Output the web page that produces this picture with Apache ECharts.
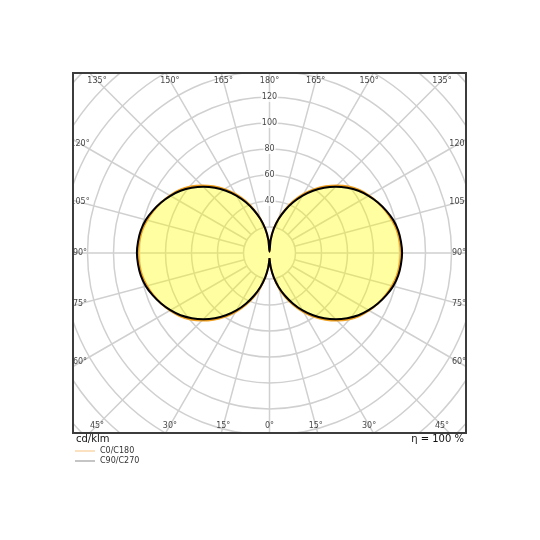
<!DOCTYPE html>
<html>
<head>
<meta charset="utf-8">
<script src="https://cdn.jsdelivr.net/npm/echarts@6/dist/echarts.min.js"></script>
<style>
  html, body { margin: 0; padding: 0; background: #fff; }
  #chart { width: 540px; height: 540px; }
</style>
</head>
<body>
<div id="chart"></div>
<script>
// gamma angles (deg) of the measured half-planes
var gammaDeg = [0, 5, 10, 15, 20, 25, 30, 35, 40, 45, 50, 55, 60, 65, 70, 75, 80, 85, 90,
                95, 100, 105, 110, 115, 120, 125, 130, 135, 140, 145, 150, 155, 160, 165, 170, 175, 180];
// intensity in cd/klm
var c0c180 = [4, 11.5, 19.5, 28, 36.5, 44.5, 52.5, 60, 67, 73.5, 79.5, 84.5, 88.5, 92, 95, 97.5, 99.5, 100.5, 101,
              100.5, 99.5, 97.5, 95, 92, 88.5, 84.5, 79.5, 73.5, 67, 60, 52.5, 44.5, 36, 27.5, 19, 10.5, 1];
var c90c270 = [4, 11, 19, 27, 35, 43, 51, 58.5, 65.5, 72, 78, 83.5, 88, 92, 95.5, 98.5, 100.5, 101.5, 102,
               101.5, 100.5, 98.5, 95.5, 92, 88, 83.5, 78, 72, 65.5, 58.5, 51, 43, 35, 27, 19, 10, 1];
var ringLabels = [40, 60, 80, 100, 120];
var angleTicks = [0, 15, 30, 45, 60, 75, 90, 105, 120, 135, 150, 165, 180,
                  195, 210, 225, 240, 255, 270, 285, 300, 315, 330, 345];
var unitText = 'cd/klm';
var effText = 'η = 100 %';

var cx = 269.5, cy = 253;
var rMax = 220, pxPerUnit = 1.3;
var frame = {x: 73, y: 73, w: 393, h: 360};

// mirror a half-plane curve into a full loop: right side phi=gamma, left side phi=360-gamma
function loop(vals) {
    var out = [];
    for (var i = 0; i < gammaDeg.length; i++) out.push([vals[i], gammaDeg[i]]);
    for (var j = gammaDeg.length - 2; j >= 0; j--) out.push([vals[j], 360 - gammaDeg[j]]);
    return out;
}

// angle labels sit on the ray where it meets a rectangle just inside the frame
function edgeLabels() {
    var halfW = 189.5, halfH = 172.5;
    return angleTicks.map(function (a) {
        var t = a * Math.PI / 180;
        var s = Math.abs(Math.sin(t)), c = Math.abs(Math.cos(t));
        var d = Math.min(s > 1e-6 ? halfW / s : 1e9, c > 1e-6 ? halfH / c : 1e9);
        return [d / pxPerUnit, a];
    });
}

var myChart = echarts.init(document.getElementById('chart'));
var gridLine = {show: true, lineStyle: {color: '#d0d0d0', width: 1.5}};
var hidden = {show: false};

var option = {
    backgroundColor: '#fff',
    animation: false,
    textStyle: {fontFamily: 'DejaVu Sans'},
    polar: [
        {center: [cx, cy], radius: [20 * pxPerUnit, rMax * pxPerUnit]},
        {center: [cx, cy], radius: rMax * pxPerUnit}
    ],
    angleAxis: [
        {polarIndex: 0, type: 'value', min: 0, max: 360, interval: 15, startAngle: -90, clockwise: false,
         axisLine: hidden, axisTick: hidden, axisLabel: hidden, splitLine: gridLine},
        {polarIndex: 1, type: 'value', min: 0, max: 360, startAngle: -90, clockwise: false,
         axisLine: hidden, axisTick: hidden, axisLabel: hidden, splitLine: hidden}
    ],
    radiusAxis: [
        {polarIndex: 0, type: 'value', min: 20, max: rMax, interval: 20,
         axisLine: hidden, axisTick: hidden, axisLabel: hidden, splitLine: gridLine},
        {polarIndex: 1, type: 'value', min: 0, max: rMax,
         axisLine: hidden, axisTick: hidden, axisLabel: hidden, splitLine: hidden}
    ],
    legend: {
        orient: 'vertical',
        left: 75,
        top: 447,
        padding: 0,
        z: 200,
        itemWidth: 20,
        itemHeight: 7,
        itemGap: 2,
        textStyle: {fontSize: 8, color: '#333', fontFamily: 'DejaVu Sans'},
        data: [
            {name: 'C0/C180', icon: 'path://M0,0L20,0L20,1L0,1Z', itemStyle: {color: '#f7c27e'}},
            {name: 'C90/C270', icon: 'path://M0,0L20,0L20,1L0,1Z', itemStyle: {color: '#8a8a8a'}}
        ]
    },
    series: [
        {
            name: 'C0/C180',
            type: 'line',
            coordinateSystem: 'polar',
            polarIndex: 1,
            symbol: 'none',
            smooth: 0.3,
            z: 3,
            lineStyle: {color: '#f0a020', width: 2},
            itemStyle: {color: '#f0a020'},
            areaStyle: {color: 'rgba(255,255,0,0.52)'},
            data: loop(c0c180)
        },
        {
            name: 'C90/C270',
            type: 'line',
            coordinateSystem: 'polar',
            polarIndex: 1,
            symbol: 'none',
            smooth: 0.3,
            z: 4,
            lineStyle: {color: '#000', width: 2},
            itemStyle: {color: '#000'},
            data: loop(c90c270)
        },
        {
            type: 'scatter',
            coordinateSystem: 'polar',
            polarIndex: 1,
            symbolSize: 1,
            silent: true,
            z: 5,
            itemStyle: {color: 'rgba(0,0,0,0)'},
            label: {
                show: true, position: 'inside', fontSize: 8, color: '#111',
                backgroundColor: '#fff', padding: [1, 1],
                formatter: function (p) { return p.value[0]; }
            },
            data: ringLabels.map(function (v) { return [v, 180]; })
        },
        {
            type: 'scatter',
            coordinateSystem: 'polar',
            polarIndex: 1,
            symbolSize: 1,
            silent: true,
            clip: false,
            z: 5,
            itemStyle: {color: 'rgba(0,0,0,0)'},
            label: {
                show: true, position: 'inside', fontSize: 8, color: '#111',
                formatter: function (p) {
                    var a = p.value[1];
                    return (a > 180 ? 360 - a : a) + '°';
                }
            },
            data: edgeLabels()
        }
    ],
    graphic: [
        // white masks outside the frame
        {type: 'rect', z: 100, silent: true, shape: {x: 0, y: 0, width: 540, height: frame.y}, style: {fill: '#fff'}},
        {type: 'rect', z: 100, silent: true, shape: {x: 0, y: frame.y + frame.h, width: 540, height: 540 - frame.y - frame.h}, style: {fill: '#fff'}},
        {type: 'rect', z: 100, silent: true, shape: {x: 0, y: 0, width: frame.x, height: 540}, style: {fill: '#fff'}},
        {type: 'rect', z: 100, silent: true, shape: {x: frame.x + frame.w, y: 0, width: 540 - frame.x - frame.w, height: 540}, style: {fill: '#fff'}},
        {type: 'rect', z: 150, silent: true, shape: {x: frame.x, y: frame.y, width: frame.w, height: frame.h},
         style: {fill: 'none', stroke: '#3c3c3c', lineWidth: 2}},
        {type: 'text', z: 150, left: 76, top: 434,
         style: {text: unitText, fontSize: 10, fill: '#111', fontFamily: 'DejaVu Sans'}},
        {type: 'text', z: 150, right: 76, top: 434,
         style: {text: effText, fontSize: 10, fill: '#111', fontFamily: 'DejaVu Sans'}}
    ]
};

myChart.setOption(option);
</script>
</body>
</html>
